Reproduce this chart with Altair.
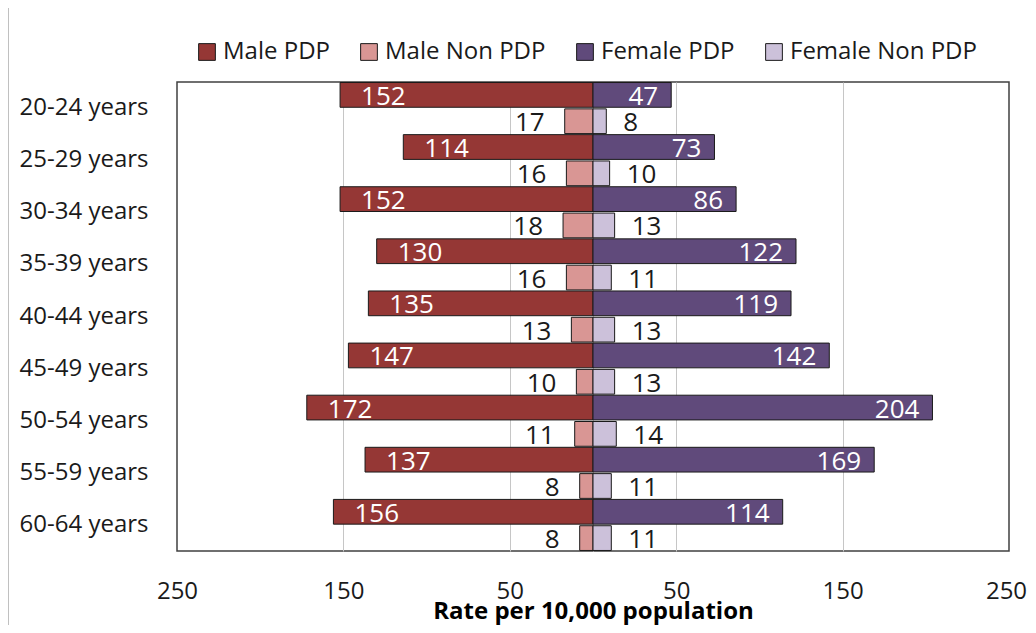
import altair as alt
import pandas as pd

ages = ["20-24 years", "25-29 years", "30-34 years", "35-39 years", "40-44 years",
        "45-49 years", "50-54 years", "55-59 years", "60-64 years"]
male_pdp = [152, 114, 152, 130, 135, 147, 172, 137, 156]
male_non = [17, 16, 18, 16, 13, 10, 11, 8, 8]
female_pdp = [47, 73, 86, 122, 119, 142, 204, 169, 114]
female_non = [8, 10, 13, 11, 13, 13, 14, 11, 11]

series_order = ["Male PDP", "Male Non PDP", "Female PDP", "Female Non PDP"]
colors = ["#953735", "#D99694", "#604A7B", "#CCC1DA"]

rows = []
for i, a in enumerate(ages):
    rows.append(dict(age=a, group="PDP", series="Male PDP", value=-male_pdp[i], label=male_pdp[i]))
    rows.append(dict(age=a, group="Non PDP", series="Male Non PDP", value=-male_non[i], label=male_non[i]))
    rows.append(dict(age=a, group="PDP", series="Female PDP", value=female_pdp[i], label=female_pdp[i]))
    rows.append(dict(age=a, group="Non PDP", series="Female Non PDP", value=female_non[i], label=female_non[i]))
df = pd.DataFrame(rows)

FONT = "Open Sans"
TXT = "#1a1a1a"

y_enc = alt.Y("age:N", sort=ages, title=None,
              scale=alt.Scale(paddingInner=0, paddingOuter=0),
              axis=alt.Axis(labelFont=FONT, labelFontSize=24, labelColor=TXT,
                            ticks=False, domain=False, labelPadding=29))
yoff = alt.YOffset("group:N", sort=["PDP", "Non PDP"],
                   scale=alt.Scale(paddingInner=0.06, paddingOuter=0.02))
x_enc = alt.X("value:Q",
              scale=alt.Scale(domain=[-250, 250], nice=False),
              title="Rate per 10,000 population",
              axis=alt.Axis(values=[-250, -150, -50, 0, 50, 150, 250],
                            labelExpr="datum.value == 0 ? '' : abs(datum.value)",
                            labelFont=FONT, labelFontSize=24, labelColor=TXT,
                            labelFlush=False,
                            labelOffset={"condition": {"test": "datum.value == 250", "value": -3}, "value": 0},
                            ticks=False, domain=False, labelPadding=28,
                            grid=True, gridColor="#c6c6c6", gridWidth=1,
                            gridOpacity={"condition": {"test": "abs(datum.value) == 250", "value": 0}, "value": 1},
                            titleFont=FONT, titleFontSize=24, titleFontWeight="bold",
                            titleColor="#000000", titlePadding=-4))

base = alt.Chart(df)

bars = base.mark_bar(stroke="#1a1a1a", strokeWidth=1).encode(
    x=x_enc, y=y_enc, yOffset=yoff,
    color=alt.Color("series:N", sort=series_order,
                    scale=alt.Scale(domain=series_order, range=colors),
                    legend=alt.Legend(title=None, orient="none", direction="horizontal",
                                      legendX=18, legendY=-42,
                                      symbolType="square", symbolSize=280,
                                      symbolStrokeColor="#1a1a1a", symbolStrokeWidth=1,
                                      labelFont=FONT, labelFontSize=24, labelColor=TXT,
                                      labelLimit=0,
                                      labelOffset=4, columnPadding=27, padding=0)))


def txt(series, align, dx, color):
    return base.transform_filter(alt.datum.series == series).mark_text(
        align=align, dx=dx, dy=2, baseline="middle", font=FONT, fontSize=26, color=color
    ).encode(x=alt.X("value:Q"), y=alt.Y("age:N", sort=ages), yOffset=yoff, text="label:Q")


frame = alt.Chart(pd.DataFrame({"k": [0]})).mark_rule(color="#c0c0c0", strokeWidth=1).encode(
    x=alt.value(-168.5), y=alt.value(-74), y2=alt.value(543))

layers = [
    bars,
    txt("Male PDP", "left", 21, "#ffffff"),
    txt("Female PDP", "right", -13, "#ffffff"),
    txt("Male Non PDP", "right", -20, TXT),
    txt("Female Non PDP", "left", 17, TXT),
    frame,
]

chart = alt.layer(*layers).properties(
    width=832, height=469,
    background="#ffffff",
    autosize=alt.AutoSizeParams(type="none"),
    padding={"left": 169, "top": 74, "right": 19, "bottom": 74},
).configure_view(stroke="#404040", strokeWidth=1.5)

chart.save("out.html", embed_options={"renderer": "svg", "actions": False})
